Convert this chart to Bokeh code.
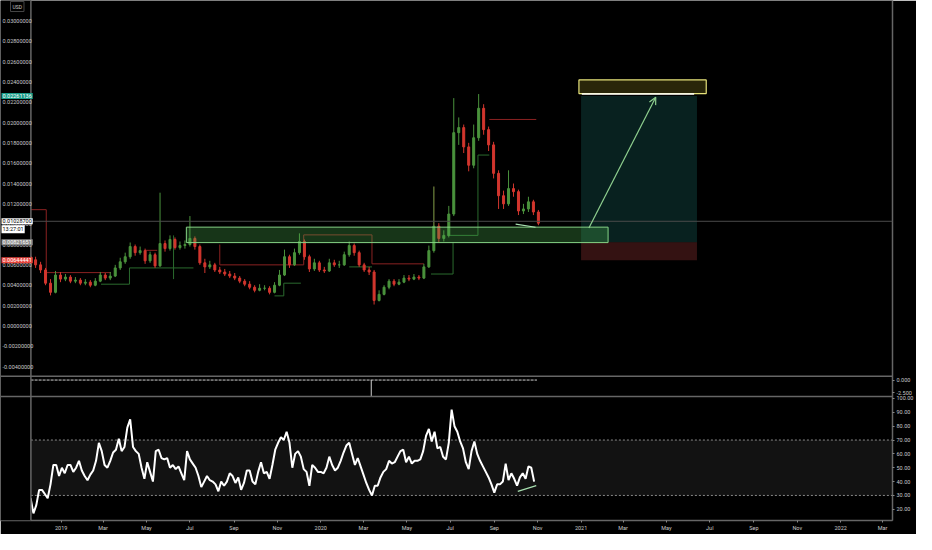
import pandas as pd
from bokeh.plotting import figure
from bokeh.models import (ColumnDataSource, Range1d, LinearAxis, FixedTicker,
                          PrintfTickFormatter, Span, BoxAnnotation, Label, Arrow, OpenHead)
from bokeh.embed import file_html
from bokeh.resources import INLINE

# weekly candles, price in USD
first_week = "2018-11-19"
first_open = 0.0068
closes = [0.0065, 0.0060, 0.0055, 0.0042, 0.0033, 0.0050, 0.0046, 0.0048, 0.0044, 0.0045,
          0.0042, 0.0043, 0.0040, 0.0044, 0.0050, 0.0047, 0.0049, 0.0057, 0.0063, 0.0068,
          0.0078, 0.0072, 0.0074, 0.0064, 0.0070, 0.0059, 0.0081, 0.0076, 0.0085, 0.0077,
          0.0079, 0.0080, 0.0086, 0.0078, 0.0062, 0.0058, 0.0060, 0.0055, 0.0053, 0.0051,
          0.0049, 0.0047, 0.0044, 0.0041, 0.0038, 0.0035, 0.0037, 0.0037, 0.0033, 0.0040,
          0.0050, 0.0068, 0.0060, 0.0072, 0.0083, 0.0068, 0.0056, 0.0062, 0.0055, 0.0054,
          0.0062, 0.0060, 0.0060, 0.0070, 0.0079, 0.0072, 0.0060, 0.0055, 0.0053, 0.0025,
          0.0031, 0.0038, 0.0044, 0.0041, 0.0043, 0.0047, 0.0046, 0.0048, 0.0047, 0.0058,
          0.0074, 0.0098, 0.0086, 0.0089, 0.0110, 0.0190, 0.0195, 0.0176, 0.0158, 0.0185,
          0.0214, 0.0193, 0.0178, 0.0150, 0.0128, 0.0120, 0.0135, 0.0132, 0.0113, 0.0115,
          0.0122, 0.0112, 0.0101]
highs = [0.0072, 0.0068, 0.0063, 0.0057, 0.0046, 0.0054, 0.0053, 0.0051, 0.0050, 0.0048,
         0.0047, 0.0046, 0.0045, 0.0047, 0.0053, 0.0052, 0.0053, 0.0060, 0.0067, 0.0072,
         0.0082, 0.0080, 0.0078, 0.0076, 0.0073, 0.0072, 0.0131, 0.0084, 0.0089, 0.0087,
         0.0083, 0.0084, 0.0108, 0.0088, 0.0080, 0.0066, 0.0064, 0.0062, 0.0058, 0.0056,
         0.0054, 0.0052, 0.0049, 0.0046, 0.0044, 0.0040, 0.0041, 0.0040, 0.0039, 0.0043,
         0.0055, 0.0075, 0.0070, 0.0076, 0.0091, 0.0085, 0.0070, 0.0066, 0.0064, 0.0058,
         0.0066, 0.0065, 0.0064, 0.0073, 0.0083, 0.0081, 0.0074, 0.0062, 0.0058, 0.0055,
         0.0035, 0.0040, 0.0046, 0.0046, 0.0046, 0.0050, 0.0050, 0.0051, 0.0050, 0.0061,
         0.0079, 0.0137, 0.0101, 0.0094, 0.0118, 0.0224, 0.0205, 0.0198, 0.0180, 0.0198,
         0.0228, 0.0218, 0.0196, 0.0181, 0.0153, 0.0133, 0.0153, 0.0140, 0.0134, 0.0120,
         0.0127, 0.0124, 0.0114]
lows = [0.0062, 0.0057, 0.0052, 0.0040, 0.0030, 0.0032, 0.0043, 0.0044, 0.0042, 0.0042,
        0.0040, 0.0040, 0.0038, 0.0039, 0.0043, 0.0045, 0.0045, 0.0048, 0.0055, 0.0061,
        0.0066, 0.0069, 0.0070, 0.0061, 0.0062, 0.0057, 0.0058, 0.0073, 0.0074, 0.0075,
        0.0075, 0.0076, 0.0078, 0.0075, 0.0060, 0.0052, 0.0056, 0.0053, 0.0051, 0.0049,
        0.0047, 0.0045, 0.0042, 0.0039, 0.0036, 0.0033, 0.0034, 0.0035, 0.0031, 0.0032,
        0.0039, 0.0049, 0.0057, 0.0059, 0.0070, 0.0065, 0.0053, 0.0054, 0.0053, 0.0052,
        0.0053, 0.0058, 0.0057, 0.0059, 0.0068, 0.0069, 0.0058, 0.0053, 0.0050, 0.0021,
        0.0024, 0.0030, 0.0036, 0.0039, 0.0040, 0.0042, 0.0044, 0.0045, 0.0045, 0.0046,
        0.0057, 0.0072, 0.0082, 0.0083, 0.0087, 0.0108, 0.0178, 0.0170, 0.0152, 0.0155,
        0.0182, 0.0188, 0.0172, 0.0145, 0.0115, 0.0115, 0.0118, 0.0127, 0.0109, 0.0110,
        0.0112, 0.0109, 0.0099]

# RSI, one reading every 4 days
rsi_first = "2018-11-19"
rsi = [28, 17, 23, 34, 34, 31, 28, 38, 52, 52, 44, 50, 46, 52, 52, 47, 50, 55, 48, 44,
       41, 45, 48, 55, 68, 62, 52, 50, 55, 61, 63, 71, 62, 65, 79, 85, 65, 62, 60, 50,
       42, 54, 47, 40, 62, 63, 57, 56, 57, 50, 52, 49, 51, 46, 41, 62, 56, 53, 50, 44,
       36, 40, 44, 41, 40, 38, 33, 40, 37, 40, 46, 44, 39, 43, 34, 39, 48, 48, 40, 38,
       47, 54, 46, 47, 42, 52, 63, 68, 72, 70, 76, 68, 50, 60, 62, 58, 49, 47, 37, 52,
       50, 47, 47, 46, 50, 58, 52, 48, 50, 55, 61, 66, 68, 60, 52, 57, 51, 45, 39, 34,
       30, 37, 37, 43, 47, 49, 55, 53, 54, 58, 62, 63, 54, 58, 53, 55, 55, 56, 62, 73,
       78, 69, 76, 64, 65, 58, 56, 68, 92, 80, 76, 69, 64, 54, 49, 62, 69, 60, 55, 51,
       47, 43, 38, 32, 38, 38, 40, 53, 41, 46, 42, 37, 43, 46, 42, 51, 50, 40]

# oscillator pane (flat at zero, one spike)
osc_span = ["2018-11-19", "2020-10-31"]
osc_spike_date = "2020-03-12"
osc_spike_value = -3.2

# axes
price_ticks = [-0.004, -0.002, 0.0, 0.002, 0.004, 0.006, 0.008, 0.010, 0.012, 0.014,
               0.016, 0.018, 0.020, 0.022, 0.024, 0.026, 0.028, 0.030]
rsi_ticks = [20, 30, 40, 50, 60, 70, 80, 90, 100]
osc_ticks = [0.0, -2.5]
month_ticks = ["2019-01-01", "2019-03-01", "2019-05-01", "2019-07-01", "2019-09-01",
               "2019-11-01", "2020-01-01", "2020-03-01", "2020-05-01", "2020-07-01",
               "2020-09-01", "2020-11-01", "2021-01-01", "2021-03-01", "2021-05-01",
               "2021-07-01", "2021-09-01", "2021-11-01", "2022-01-01", "2022-03-01"]
month_labels = ["2019", "Mar", "May", "Jul", "Sep", "Nov", "2020", "Mar", "May", "Jul",
                "Sep", "Nov", "2021", "Mar", "May", "Jul", "Sep", "Nov", "2022", "Mar"]

# drawings on the price pane
zone_dates = ["2019-06-26", "2021-02-08"]
zone_prices = [0.00819, 0.00971]
pos_dates = ["2021-01-01", "2021-06-13"]
pos_target, pos_entry, pos_stop = 0.02261136, 0.00821651, 0.00644441
goal_dates = ["2020-12-29", "2021-06-26"]
goal_prices = [0.02285, 0.02419]
goal_line_dates = ["2021-01-02", "2021-06-09"]
goal_line_price = 0.0228
arrow_dates = ["2021-01-12", "2021-04-16"]
arrow_prices = [0.00962, 0.02248]
last_price = 0.010287
div_price_dates = ["2020-10-01", "2020-10-29"]
div_prices = [0.0100, 0.0097]
div_rsi_dates = ["2020-10-04", "2020-10-30"]
div_rsi = [32.9, 37.1]

red_xs = [["2018-11-19", "2018-12-11", "2018-12-11", "2019-03-12"],
          ["2019-04-29", "2019-05-16"],
          ["2019-08-12", "2019-08-12", "2019-12-08", "2019-12-08", "2020-03-13", "2020-03-13", "2020-05-25"],
          ["2020-06-08", "2020-06-08"],
          ["2020-08-25", "2020-10-30"]]
red_ys = [[0.01143, 0.01143, 0.00524, 0.00524],
          [0.00743, 0.00743],
          [0.0080, 0.0060, 0.0060, 0.00895, 0.00895, 0.0061, 0.0061],
          [0.0137, 0.0082],
          [0.0203, 0.0203]]
green_xs = [["2019-02-26", "2019-04-07", "2019-04-07", "2019-07-06"],
            ["2019-06-08", "2019-06-08"],
            ["2019-10-28", "2019-11-10", "2019-11-10", "2019-12-04"],
            ["2020-02-10", "2020-03-13"],
            ["2020-06-04", "2020-07-05", "2020-07-05"],
            ["2020-06-27", "2020-08-09", "2020-08-09", "2020-08-25"]]
green_ys = [[0.0041, 0.0041, 0.0057, 0.0057],
            [0.0089, 0.0046],
            [0.00295, 0.00295, 0.0042, 0.0042],
            [0.0058, 0.0058],
            [0.0051, 0.0051, 0.0082],
            [0.0089, 0.0089, 0.0168, 0.0168]]


def ms(d):
    return pd.Timestamp(d).value / 1e6


DAY = 86400000
FONT = "Roboto"
AXIS_TEXT = "#c8c8c8"
GRAY = "#666666"

# the price scale is drawn inside the frame, left of this date
axis_date = ms("2018-11-19 10:00")
x_end = ms("2022-03-14 22:00")

p = figure(width=916, height=534, x_axis_type="datetime", y_axis_location=None,
           x_range=Range1d(ms("2018-10-07 16:00"), x_end),
           y_range=Range1d(-0.01914, 0.0320),
           output_backend="svg", toolbar_location=None,
           background_fill_color="#000000", border_fill_color="#000000",
           outline_line_color=None,
           min_border_left=0, min_border_right=20, min_border_top=0, min_border_bottom=14)
p.extra_y_ranges = {"rsi": Range1d(11.9, 387.4), "osc": Range1d(-27.9, 75.4)}
p.xgrid.visible = False
p.ygrid.visible = False

# rsi + oscillator axis (right); oscillator ticks mapped onto the rsi scale
r0, r1 = p.extra_y_ranges["rsi"].start, p.extra_y_ranges["rsi"].end
o0, o1 = p.extra_y_ranges["osc"].start, p.extra_y_ranges["osc"].end
osc_on_rsi = [r0 + (v - o0) * (r1 - r0) / (o1 - o0) for v in osc_ticks]
rax = LinearAxis(y_range_name="rsi", ticker=FixedTicker(ticks=rsi_ticks + osc_on_rsi),
                 formatter=PrintfTickFormatter(format="%.2f"),
                 major_label_overrides={pos: "%.3f" % v for pos, v in zip(osc_on_rsi, osc_ticks)})
p.add_layout(rax, "right")

# time axis
xax = p.xaxis[0]
xax.ticker = FixedTicker(ticks=[ms(d) for d in month_ticks])
xax.major_label_overrides = {ms(d): lab for d, lab in zip(month_ticks, month_labels)}

for ax in (rax, xax):
    ax.axis_line_color = GRAY
    ax.axis_line_width = 1.5
    ax.major_tick_line_color = "#888888"
    ax.major_tick_out = 2
    ax.major_tick_in = 0
    ax.minor_tick_line_color = None
    ax.major_label_text_color = AXIS_TEXT
    ax.major_label_text_font = FONT
    ax.major_label_text_font_size = "5.5px"
    ax.major_label_standoff = 2

# RSI band
p.add_layout(BoxAnnotation(left=axis_date, bottom=30, top=70, y_range_name="rsi",
                           fill_color="#ffffff", fill_alpha=0.07, line_color=None, level="underlay"))
p.segment([axis_date] * 2, [70, 30], [x_end] * 2, [70, 30], y_range_name="rsi",
          line_color="#8a8a8a", line_dash="2 2", line_width=1)

# last price line
p.add_layout(Span(location=last_price, dimension="width", line_color="#4a4a4a", line_width=1))

# higher timeframe step lines
p.multi_line([[ms(d) for d in xs] for xs in red_xs], red_ys, line_color="#8a2222", line_width=1)
p.multi_line([[ms(d) for d in xs] for xs in green_xs], green_ys, line_color="#2a6a2e", line_width=1)

# candles
weeks = pd.date_range(first_week, periods=len(closes), freq="7D")
opens = [first_open] + closes[:-1]
colors = ["#4a923c" if c >= o else "#d2362e" for o, c in zip(opens, closes)]
src = ColumnDataSource(dict(x=weeks, o=opens, c=closes, h=highs, l=lows, col=colors))
p.segment("x", "h", "x", "l", source=src, line_color="col", line_width=1)
p.vbar(x="x", width=2.8 * DAY, top="o", bottom="c", source=src, fill_color="col", line_color="col")

# long position tool
p.quad(left=ms(pos_dates[0]), right=ms(pos_dates[1]), bottom=pos_entry, top=pos_target,
       fill_color="#26a69a", fill_alpha=0.2, line_color=None)
p.quad(left=ms(pos_dates[0]), right=ms(pos_dates[1]), bottom=pos_stop, top=pos_entry,
       fill_color="#ef5350", fill_alpha=0.22, line_color=None)

# demand zone
p.quad(left=ms(zone_dates[0]), right=ms(zone_dates[1]), bottom=zone_prices[0], top=zone_prices[1],
       fill_color="#4caf50", fill_alpha=0.3, line_color="#86d486", line_width=1)

# goal box
p.quad(left=ms(goal_dates[0]), right=ms(goal_dates[1]), bottom=goal_prices[0], top=goal_prices[1],
       fill_color="#ffeb3b", fill_alpha=0.16, line_color="#e6e27a", line_width=1.2)
p.line([ms(d) for d in goal_line_dates], [goal_line_price] * 2, line_color="white", line_width=1.5)

p.add_layout(Arrow(end=OpenHead(size=7, line_color="#8fd08f", line_width=1.2),
                   x_start=ms(arrow_dates[0]), y_start=arrow_prices[0],
                   x_end=ms(arrow_dates[1]), y_end=arrow_prices[1],
                   line_color="#8fd08f", line_width=1.2))

# divergence lines
p.line([ms(d) for d in div_price_dates], div_prices, line_color="#a8e0b0", line_width=1.2)
p.line([ms(d) for d in div_rsi_dates], div_rsi, y_range_name="rsi", line_color="#a8e0b0", line_width=1.2)

# oscillator pane
p.line([ms(d) for d in osc_span], [0, 0], y_range_name="osc", line_color="#d0d0d0",
       line_dash="3 1", line_width=1)
p.segment(ms(osc_spike_date), 0, ms(osc_spike_date), osc_spike_value, y_range_name="osc",
          line_color="#d0d0d0", line_width=1)

# RSI line
rsi_dates = pd.date_range(rsi_first, periods=len(rsi), freq="4D")
p.line(rsi_dates, rsi, y_range_name="rsi", line_color="white", line_width=2)

# price scale area: mask, axis line, pane separators
p.add_layout(BoxAnnotation(right=axis_date, fill_color="#000000", fill_alpha=1, line_color=None))
p.add_layout(Span(location=axis_date, dimension="height", line_color=GRAY, line_width=1.5))
for loc in (-0.00495, -0.00695):
    p.add_layout(Span(location=loc, dimension="width", line_color=GRAY, line_width=1.5))

# price tick marks and labels
p.segment([axis_date - 3 * DAY] * len(price_ticks), price_ticks,
          [axis_date] * len(price_ticks), price_ticks, line_color="#888888", line_width=1)
for t in price_ticks:
    p.add_layout(Label(x=2, x_units="screen", y=t, text="%.8f" % t, text_baseline="middle",
                       text_font=FONT, text_font_size="5.5px", text_color=AXIS_TEXT))


# price badges on the price scale
def badge(price, text, bg, fg, dy=0):
    p.add_layout(Label(x=1, x_units="screen", y=price, text=text, y_offset=dy,
                       text_baseline="middle", text_font=FONT, text_font_size="5.5px",
                       text_color=fg, background_fill_color=bg, padding=1))


badge(pos_target, "%.8f" % pos_target, "#1a9c88", "white")
badge(last_price, "%.8f" % last_price, "#ffffff", "#000000")
badge(last_price, "13:27:01", "#ffffff", "#000000", dy=-8)
badge(pos_entry, "%.8f" % pos_entry, "#8c8c8c", "white")
badge(pos_stop, "%.8f" % pos_stop, "#e8453c", "white")

p.add_layout(Label(x=10, x_units="screen", y=514, y_units="screen", text="USD",
                   text_baseline="middle", text_font=FONT, text_font_size="5px",
                   text_color=AXIS_TEXT, border_line_color="#444444", padding=2))

open("out.html", "w").write(file_html(p, INLINE))
